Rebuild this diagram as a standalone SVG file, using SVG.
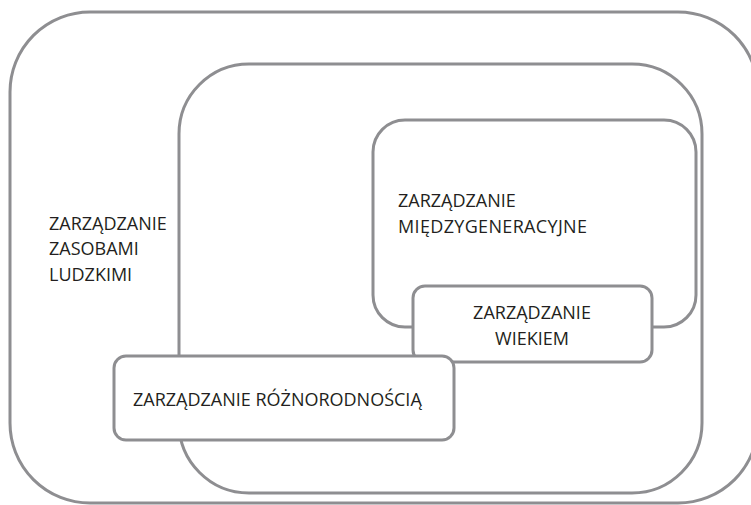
<svg xmlns="http://www.w3.org/2000/svg" width="751" height="505" viewBox="0 0 751 505">
  <style>
    .frame { fill: #ffffff; stroke: #8e8e91; stroke-width: 3; }
    .label { font-family: "Open Sans", "Liberation Sans", sans-serif; font-size: 18px; fill: #231f20; }
  </style>
  <rect x="0" y="0" width="751" height="505" fill="#ffffff"/>
  <g id="node-zzl">
    <rect class="frame" x="10" y="12" width="748" height="491" rx="80" ry="80"/>
    <text class="label" x="49" y="229.5">ZARZĄDZANIE</text>
    <text class="label" x="49" y="255">ZASOBAMI</text>
    <text class="label" x="49" y="280.5">LUDZKIMI</text>
  </g>
  <g id="node-middle">
    <rect class="frame" x="179" y="64" width="523" height="429" rx="70" ry="70"/>
  </g>
  <g id="node-miedzygeneracyjne">
    <rect class="frame" x="373" y="120" width="323" height="207" rx="32" ry="32"/>
    <text class="label" x="398" y="207">ZARZĄDZANIE</text>
    <text class="label" x="398" y="233" textLength="189" lengthAdjust="spacing">MIĘDZYGENERACYJNE</text>
  </g>
  <g id="node-wiekiem">
    <rect class="frame" x="413" y="286" width="239" height="76" rx="12" ry="12"/>
    <text class="label" x="532" y="319" text-anchor="middle">ZARZĄDZANIE</text>
    <text class="label" x="532" y="345" text-anchor="middle">WIEKIEM</text>
  </g>
  <g id="node-roznorodnosc">
    <rect class="frame" x="114" y="356" width="340" height="84" rx="12" ry="12"/>
    <text class="label" x="133" y="405.5">ZARZĄDZANIE RÓŻNORODNOŚCIĄ</text>
  </g>
  <g id="connectors"/>
</svg>
